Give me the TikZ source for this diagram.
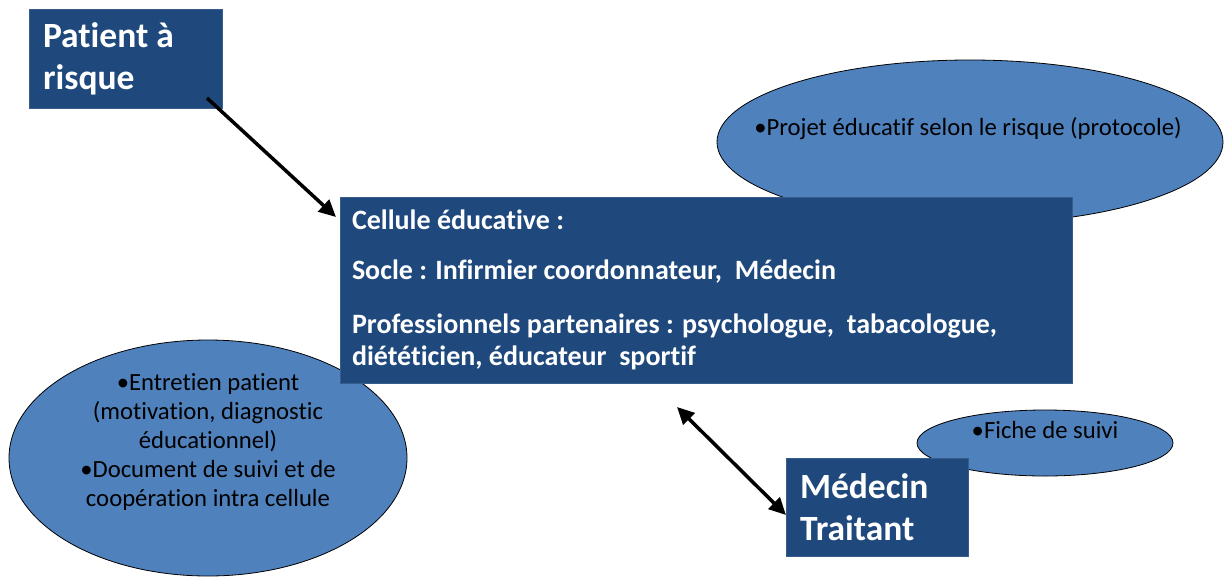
\documentclass[tikz,border=0pt]{standalone}
\usepackage{fontspec}
\setmainfont{Carlito}[Ligatures=NoCommon]
\usetikzlibrary{arrows.meta,shapes.geometric}

\definecolor{boxblue}{RGB}{31,73,125}
\definecolor{boxedge}{RGB}{56,93,138}
\definecolor{ovalblue}{RGB}{79,129,189}

\tikzset{
  bluebox/.style={fill=boxblue, draw=boxedge, line width=1pt, text=white,
    font=\bfseries\fontsize{35.5}{42}\selectfont, align=flush left, inner xsep=14pt},
  oval/.style={ellipse, fill=ovalblue, draw=black, line width=0.8pt, inner sep=0pt},
  ovaltext/.style={font=\fontsize{24.7}{29}\selectfont, align=flush center},
  link/.style={line width=3.5pt, -{Triangle[length=17pt,width=16pt]}},
  twolink/.style={line width=3.5pt, {Triangle[length=17pt,width=16pt]}-{Triangle[length=17pt,width=16pt]}}
}

\begin{document}
\begin{tikzpicture}[x=1pt, y=-1pt]

  \useasboundingbox (0,0) rectangle (1225,576);

  %ovals behind the boxes
  \node[oval, minimum width=506pt, minimum height=164pt] (projet) at (970,142) {};
  \node[oval, minimum width=398pt, minimum height=236pt] (entretien) at (208,458) {};
  \node[oval, minimum width=256pt, minimum height=66pt] (fiche) at (1045,443) {};

  \node[ovaltext] (projettxt) at (968,129) {•Projet éducatif selon le risque (protocole)};
  \node[ovaltext] (entretientxt) at (208,442) {•Entretien patient\\(motivation, diagnostic\\éducationnel)\\•Document de suivi et de\\coopération intra cellule};
  \node[ovaltext] (fichetxt) at (1045,430) {•Fiche de suivi};

  %boxes
  \node[bluebox, minimum width=193pt, minimum height=99pt, text width=165pt] (patient) at (125.5,58.5) {Patient à\\risque};

  \node[bluebox, minimum width=732pt, minimum height=186pt, text width=708pt, inner xsep=12pt,
        font=\bfseries\fontsize{28}{32}\selectfont] (cellule) at (706,290)
        {Cellule éducative :\\[18pt]
         Socle : Infirmier coordonnateur,~ Médecin\\[22pt]
         Professionnels partenaires : psychologue,~ tabacologue,\\
         diététicien, éducateur~ sportif};

  \node[bluebox, minimum width=182pt, minimum height=98pt, text width=154pt] (medecin) at (877,507) {Médecin\\Traitant};

  %arrows
  \coordinate (pstart) at (207,98);
  \coordinate (ctip) at (336,217);
  \coordinate (cbottom) at (677,407);
  \coordinate (mtip) at (786,515);

  \draw[link] (pstart) -- (ctip);
  \draw[twolink] (cbottom) -- (mtip);

\end{tikzpicture}
\end{document}
